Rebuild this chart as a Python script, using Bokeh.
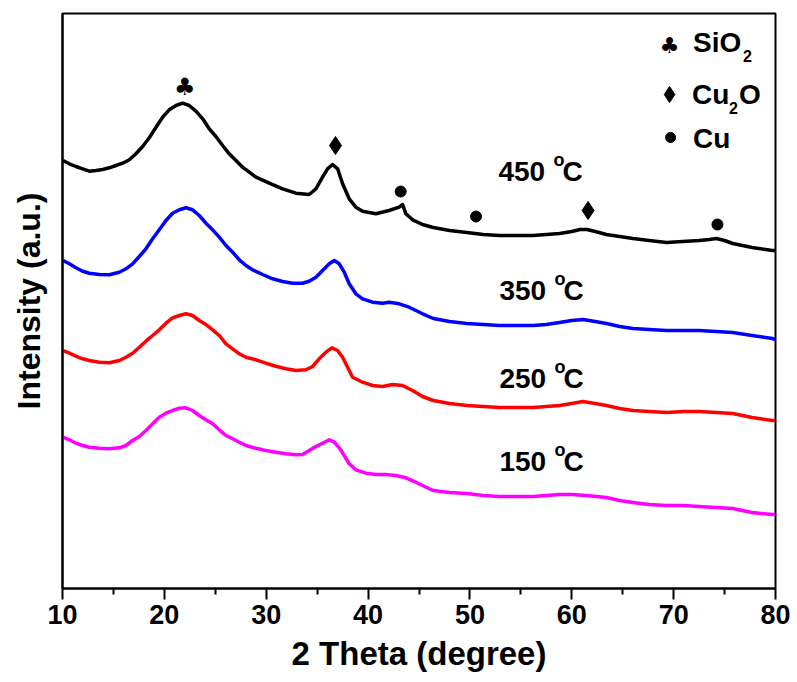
from bokeh.plotting import figure
from bokeh.models import Range1d, FixedTicker
from bokeh.core.properties import value
from bokeh.embed import file_html
from bokeh.resources import INLINE

# ---- data (intensity in arbitrary units) ----
x_450 = [10.05, 10.67, 11.32, 11.98, 12.63, 13.29, 13.94, 14.6, 15.25, 15.91, 16.56, 17.21, 17.87,
         18.52, 19.18, 19.83, 20.48, 21.14, 21.8, 22.44, 23.1, 23.76, 24.41, 25.06, 25.72, 26.37,
         27.03, 27.68, 28.33, 28.99, 30.3, 31.61, 32.91, 34.22, 34.88, 35.53, 36.02, 36.51, 37.01,
         37.5, 38.15, 38.8, 39.46, 40.77, 42.07, 43.05, 43.39, 43.71, 44.37, 45.35,
         46.4, 48.0, 49.7, 51.3, 52.9, 54.5, 56.2, 57.5, 58.8, 60.0, 60.8, 61.5, 62.3, 63.4, 64.7,
         66.0, 67.6, 69.3, 70.9, 72.5, 73.5, 74.2, 75.0, 75.8, 77.7, 79.7, 80.0]
y_450 = [428, 424.7, 422, 419.7, 417.3, 418, 419, 420.7, 423, 425.3, 428.7, 434.7, 442,
         450.7, 461.3, 471.3, 478.7, 483, 485.3, 483, 477.3, 469.7, 459.7, 452, 443, 434.7,
         428, 421.3, 416.3, 411.3, 405.3, 399.7, 395.3, 394, 399.7, 411.3, 419.7, 424, 419.7,
         404.7, 389.7, 381.3, 377.3, 374.7, 378, 381.3, 384, 374.7, 368.7, 364,
         361, 358, 356, 354, 353, 353, 353, 354, 355, 357, 359, 359, 357, 354, 352,
         350, 348, 346, 347, 348, 349, 350, 348, 345, 341, 338, 338]

x_350 = [10.05, 10.67, 11.32, 11.98, 12.63, 13.61, 14.6, 15.58, 16.23, 16.89, 17.54, 18.19, 18.85,
         19.5, 20.16, 20.81, 21.47, 22.12, 22.77, 23.43, 24.08, 24.74, 25.39, 26.05, 26.7, 27.36,
         28.01, 28.66, 29.65, 30.63, 31.61, 32.59, 33.57, 34.22, 34.88, 35.53, 36.19, 36.68, 37.17,
         37.66, 38.15, 38.8, 39.46, 40.44, 41.42, 42.07, 43.05, 44.03, 44.69, 45.35,
         46.4, 48.0, 49.7, 51.3, 52.9, 54.5, 56.2, 57.5, 58.8, 60.0, 61.1, 62.3, 63.4, 64.7,
         66.0, 67.6, 69.3, 71.0, 72.5, 74.2, 75.8, 77.7, 79.7, 80.0]
y_350 = [328, 324.7, 320.7, 317.3, 315.3, 314, 313.7, 316.3, 319.7, 324.7, 332, 339.7, 349.7,
         358.7, 368, 375.3, 378.7, 380.7, 378.7, 373, 365.3, 358.7, 351.3, 343, 336.3, 328.7,
         323, 318.7, 314, 309.7, 307, 305.3, 305.3, 307.3, 311.3, 318, 324.7, 328, 324.7,
         316.3, 304.7, 294.7, 289.7, 286.3, 285.3, 286.3, 284.7, 281.3, 278, 274.7,
         270, 267, 265, 264, 263, 263, 263, 264, 266, 268, 269, 267, 265, 262,
         260, 259, 258, 258, 258, 257, 256, 253, 250, 249]

x_250 = [10.05, 10.67, 11.32, 11.98, 12.63, 13.61, 14.6, 15.58, 16.23, 16.89, 17.54, 18.19, 18.85,
         19.5, 20.16, 20.81, 21.47, 22.12, 22.77, 23.43, 24.08, 24.74, 25.39, 26.05, 26.7, 27.36,
         28.01, 28.99, 29.97, 30.96, 31.94, 32.91, 33.9, 34.55, 35.2, 35.86, 36.45, 37.0, 37.5,
         37.99, 38.48, 39.46, 40.44, 41.42, 42.4, 43.38, 44.37, 45.35,
         46.4, 48.0, 49.7, 51.3, 52.9, 54.5, 56.2, 57.5, 58.8, 60.0, 61.1, 62.3, 63.4, 64.7,
         66.0, 67.6, 69.3, 71.0, 72.5, 74.2, 75.8, 77.7, 79.7, 80.0]
y_250 = [238, 235.3, 232.3, 229.7, 228, 226.3, 225.7, 228, 231.3, 235.3, 241.3, 247.3, 253,
         258.7, 265.3, 270.7, 273, 274.7, 273, 268, 264, 258.7, 253, 244.7, 239.7, 234.7,
         231.3, 228.7, 225.3, 222.3, 219.7, 218, 218.7, 222, 229.7, 236.3, 240.7, 238, 231.3,
         221.3, 211.3, 206.3, 203, 202, 204, 203, 198, 192,
         188, 185, 183, 182, 181, 181, 181, 182, 183, 185, 187, 185, 183, 180,
         178, 177, 176, 177, 177, 176, 175, 171, 168, 168]

x_150 = [10.05, 10.67, 11.32, 11.98, 12.63, 13.61, 14.6, 15.58, 16.23, 16.89, 17.54, 18.19, 18.85,
         19.5, 20.16, 20.81, 21.47, 22.12, 22.77, 23.43, 24.08, 24.74, 25.39, 26.05, 26.7, 27.36,
         28.01, 28.99, 29.97, 30.96, 31.94, 32.91, 33.57, 34.22, 34.88, 35.53, 36.19, 36.68, 37.17,
         37.66, 38.15, 38.8, 39.79, 40.77, 41.75, 42.73, 43.71, 44.69, 45.35,
         46.4, 48.0, 49.7, 51.3, 52.9, 54.5, 56.2, 57.5, 58.8, 60.0, 61.4, 62.4, 63.4, 64.7,
         66.0, 67.6, 69.3, 71.0, 72.5, 74.2, 75.8, 77.7, 79.7, 80.0]
y_150 = [151.3, 148.7, 145.3, 143, 141.3, 140.3, 139.7, 140.7, 143, 148, 152, 158, 164.7,
         171.3, 175.3, 178, 180.3, 180.7, 178, 173, 168.7, 164.7, 158.7, 153, 149.7, 146.3,
         143, 140.3, 138, 136.3, 134.7, 133.7, 134, 138, 142, 145.3, 148.7, 146.3, 140.7,
         133, 124.7, 118.7, 115.3, 114, 114, 113, 110.7, 106.3, 103,
         98, 96, 95, 93, 92, 92, 92, 93, 94, 94, 93, 92, 91, 88,
         86, 84, 83, 83, 82, 81, 80, 76, 74, 74]

series_colors = ["black", "#0000FF", "#FF0000", "#FF00FF"]

# temperature labels
temp_labels = ["450", "350", "250", "150"]
temp_x = [52.8, 52.9, 52.9, 52.9]
temp_y = [417, 298, 210, 127]

# phase markers on the 450 C pattern
sio2_x = [22.0]
sio2_y = [502]
cu2o_x = [36.8, 61.6]
cu2o_y = [443, 378]
cu_x = [43.2, 50.6, 74.3]
cu_y = [397, 372, 364]

# legend (symbol positions and texts)
leg_sym_x = [69.6, 69.6, 69.7]
leg_sym_y = [543, 494, 451]
leg_text_x = [71.9, 71.8, 71.9]
leg_text_y = [546, 494, 450]

x_ticks = [10, 20, 30, 40, 50, 60, 70, 80]
x_minor = [15, 25, 35, 45, 55, 65, 75]

FONT = "Liberation Sans"

p = figure(width=797, height=682, output_backend="svg", toolbar_location=None,
           x_range=Range1d(10, 80), y_range=Range1d(0, 575),
           min_border_left=62, min_border_right=22, min_border_top=13, min_border_bottom=94)
p.grid.visible = False
p.background_fill_color = "white"
p.border_fill_color = "white"
p.outline_line_color = "black"
p.outline_line_width = 2

# x axis
xa = p.xaxis[0]
xa.ticker = FixedTicker(ticks=x_ticks, minor_ticks=x_minor)
xa.axis_line_width = 2
xa.major_tick_line_width = 2
xa.minor_tick_line_width = 2
xa.major_tick_out = 11
xa.major_tick_in = 0
xa.minor_tick_out = 6
xa.minor_tick_in = 0
xa.major_label_text_font = FONT
xa.major_label_text_font_style = "bold"
xa.major_label_text_font_size = "27px"
xa.major_label_text_color = "black"
xa.major_label_standoff = 5
xa.axis_label = "2 Theta (degree)"
xa.axis_label_text_font = FONT
xa.axis_label_text_font_style = "bold"
xa.axis_label_text_font_size = "33px"
xa.axis_label_text_color = "black"
xa.axis_label_standoff = 8

# y axis (no ticks)
ya = p.yaxis[0]
ya.ticker = FixedTicker(ticks=[])
ya.axis_line_width = 2
ya.major_tick_line_color = None
ya.minor_tick_line_color = None
ya.major_label_text_font_size = "0px"
ya.axis_label = "Intensity (a.u.)"
ya.axis_label_text_font = FONT
ya.axis_label_text_font_style = "bold"
ya.axis_label_text_font_size = "32px"
ya.axis_label_text_color = "black"
ya.axis_label_standoff = 16

# patterns
for xs, ys, c in zip([x_450, x_350, x_250, x_150], [y_450, y_350, y_250, y_150], series_colors):
    p.line(xs, ys, line_color=c, line_width=3.5, line_join="round")

# temperature labels: number, superscript o, C
common = dict(text_font=value(FONT), text_font_style="bold", text_color="black",
              text_baseline="middle", text_align="left")
p.text(temp_x, temp_y, text=temp_labels, text_font_size="28px", **common)
p.text(temp_x, temp_y, text=["o"] * 4, text_font_size="18px", x_offset=55, y_offset=-12, **common)
p.text(temp_x, temp_y, text=["C"] * 4, text_font_size="28px", x_offset=64, **common)

# phase markers
p.text(sio2_x, sio2_y, text=["\u2663"], text_font=value("DejaVu Sans"), text_font_size="24px",
       text_align="center", text_baseline="middle", text_color="black")
p.scatter(cu2o_x, cu2o_y, marker="diamond", size=18, color="black")
p.scatter(cu_x, cu_y, marker="circle", size=11, color="black")

# legend
p.text(leg_sym_x[:1], leg_sym_y[:1], text=["\u2663"], text_font=value("DejaVu Sans"),
       text_font_size="22px", text_align="center", text_baseline="middle", text_color="black")
p.scatter(leg_sym_x[1:2], leg_sym_y[1:2], marker="diamond", size=16, color="black")
p.scatter(leg_sym_x[2:], leg_sym_y[2:], marker="circle", size=10, color="black")

p.text(leg_text_x[:1], leg_text_y[:1], text=["SiO"], text_font_size="28px", **common)
p.text(leg_text_x[:1], leg_text_y[:1], text=["2"], text_font_size="16px", x_offset=50, y_offset=13, **common)
p.text(leg_text_x[1:2], leg_text_y[1:2], text=["Cu"], text_font_size="28px", **common)
p.text(leg_text_x[1:2], leg_text_y[1:2], text=["2"], text_font_size="16px", x_offset=37, y_offset=13, **common)
p.text(leg_text_x[1:2], leg_text_y[1:2], text=["O"], text_font_size="28px", x_offset=47, **common)
p.text(leg_text_x[2:], leg_text_y[2:], text=["Cu"], text_font_size="28px", **common)

open("out.html", "w").write(file_html(p, INLINE))
